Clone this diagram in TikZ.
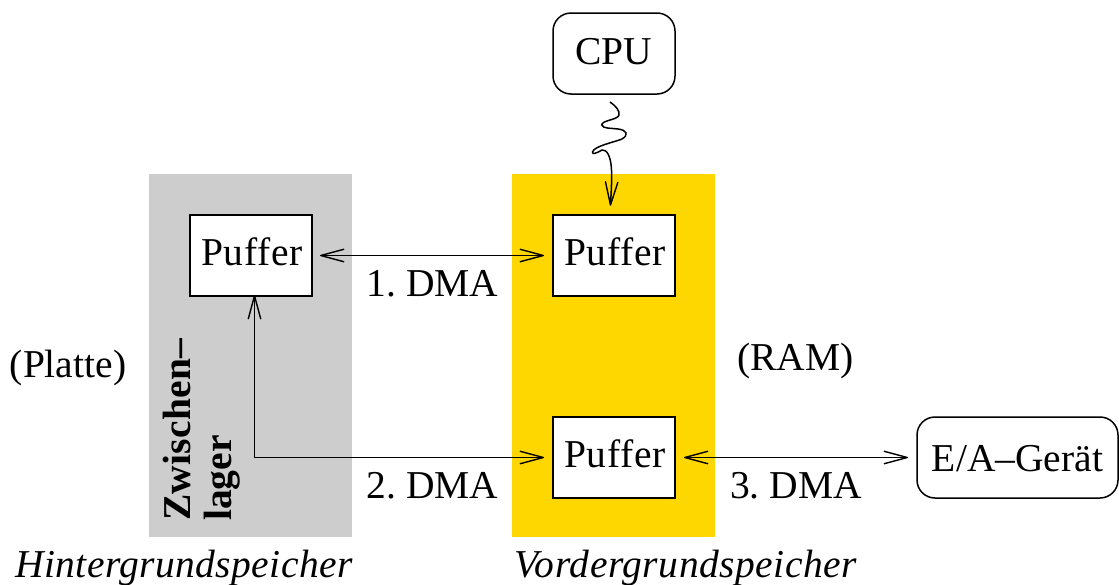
\documentclass[tikz,border=0pt]{standalone}
\usepackage{fontspec}
\setmainfont{Liberation Serif}
\usetikzlibrary{arrows.meta}
\frenchspacing
\definecolor{goldfill}{RGB}{255,215,0}
\definecolor{grayfill}{RGB}{205,205,205}
\newcommand{\puf}{\kern2pt\addfontfeature{LetterSpace=1.6}Puffer}
\pgfdeclarearrow{
  name=VTip,
  setup code={%
    \pgfarrowssettipend{0pt}%
    \pgfarrowssetlineend{-1pt}%
    \pgfarrowssetvisualbackend{-23pt}%
    \pgfarrowssetbackend{-23pt}%
  },
  drawing code={%
    \pgfsetdash{}{0pt}%
    \pgfsetroundjoin
    \pgfsetroundcap
    \pgfsetlinewidth{1.4pt}%
    \pgfpathmoveto{\pgfqpoint{-23pt}{6.2pt}}%
    \pgfpathlineto{\pgfqpoint{0pt}{0pt}}%
    \pgfpathlineto{\pgfqpoint{-23pt}{-6.2pt}}%
    \pgfusepathqstroke
  },
}
\tikzset{
  x=1pt,y=-1pt,
  lbl/.style={font=\fontsize{39.5}{44}\selectfont,inner sep=0pt,text=black},
  boldlbl/.style={lbl,font=\fontsize{39.5}{44}\selectfont\bfseries,rotate=90,anchor=base west},
  itlbl/.style={lbl,font=\fontsize{39.5}{44}\selectfont\itshape,anchor=base},
  bufbox/.style={draw=black,fill=white,line width=1.5pt,minimum width=122pt,minimum height=81pt,inner sep=0pt,lbl,text depth=0pt,text height=20pt},
  devbox/.style={bufbox,rounded corners=18pt},
  conn/.style={line width=1.5pt,draw=black},
}
\begin{document}
\begin{tikzpicture}
\useasboundingbox (0,0) rectangle (1119,584);
\fill[grayfill] (149,174) rectangle (352,537);
\fill[goldfill] (512,174) rectangle (715,537);
\node[devbox,text height=21pt] (cpu) at (614,53.5) {CPU};
\node[bufbox] (p1) at (251,255.5) {\puf};
\node[bufbox] (p2) at (614,255.5) {\puf};
\node[bufbox] (p3) at (614,457.5) {\puf};
\node[devbox,minimum width=201pt,text height=28.4pt] (ea) at (1017.5,457.5) {E/A–Gerät};
\coordinate (sq) at (610,102);
\draw[conn,-VTip] (sq) .. controls (616,106) and (620,111) .. (619,115)
  .. controls (618,120) and (602,120) .. (601.7,125)
  .. controls (603,129) and (612,128) .. (618,129)
  .. controls (627,130) and (629,135) .. (622,139)
  .. controls (615,142) and (594,146) .. (592.5,152)
  .. controls (592,155) and (597,153) .. (602,150)
  .. controls (607,149) and (611,157) .. (611.5,170)
  .. controls (612,182) and (611,195) .. (610.5,205);
\draw[conn,VTip-VTip] ([xshift=8pt]p1.east) -- ([xshift=-9pt]p2.west);
\coordinate (corner) at (254.5,457.5);
\draw[conn,VTip-VTip] ([xshift=3.5pt,yshift=1pt]p1.south) -- (corner) -- ([xshift=-9pt]p3.west);
\draw[conn,VTip-VTip] ([xshift=9pt]p3.east) -- ([xshift=-9pt]ea.west);
\node[lbl,anchor=base] (d1) at (432.5,296) {1. DMA};
\node[lbl,anchor=base] (d2) at (432.5,498) {2. DMA};
\node[lbl,anchor=base] (d3) at (796,498) {3. DMA};
\node[lbl,anchor=base] (pl) at (68,377) {(Platte)};
\node[lbl,anchor=base] (ram) at (795.5,370) {(RAM)};
\node[boldlbl] (z) at (190,521) {\addfontfeature{LetterSpace=0.6}Zwischen–};
\node[boldlbl] (la) at (231,521) {lager};
\node[itlbl] (h) at (184,577) {\addfontfeature{LetterSpace=1}Hintergrundspeicher};
\node[itlbl] (v) at (686,577) {\addfontfeature{LetterSpace=1.4}Vordergrundspeicher};
\end{tikzpicture}
\end{document}
